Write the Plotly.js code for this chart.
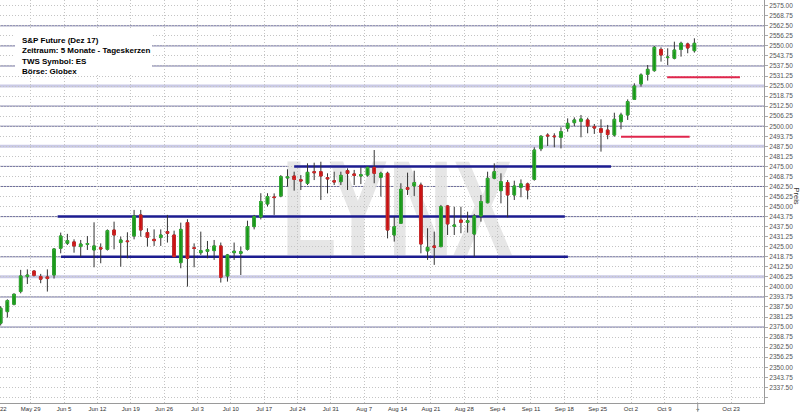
<!DOCTYPE html>
<html><head><meta charset="utf-8">
<script src="https://cdn.plot.ly/plotly-3.0.1.min.js"></script>
<style>html,body{margin:0;padding:0;background:#fff;} #chart{width:800px;height:414px;}</style>
</head><body><div id="chart"></div>
<script>
// Trading days (daily candles)
const dates = [
'2017-05-22','2017-05-23','2017-05-24','2017-05-25','2017-05-26',
'2017-05-29','2017-05-30','2017-05-31','2017-06-01','2017-06-02',
'2017-06-05','2017-06-06','2017-06-07','2017-06-08','2017-06-09',
'2017-06-12','2017-06-13','2017-06-14','2017-06-15','2017-06-16',
'2017-06-19','2017-06-20','2017-06-21','2017-06-22','2017-06-23',
'2017-06-26','2017-06-27','2017-06-28','2017-06-29','2017-06-30',
'2017-07-03','2017-07-04','2017-07-05','2017-07-06','2017-07-07',
'2017-07-10','2017-07-11','2017-07-12','2017-07-13','2017-07-14',
'2017-07-17','2017-07-18','2017-07-19','2017-07-20','2017-07-21',
'2017-07-24','2017-07-25','2017-07-26','2017-07-27','2017-07-28',
'2017-07-31','2017-08-01','2017-08-02','2017-08-03','2017-08-04',
'2017-08-07','2017-08-08','2017-08-09','2017-08-10','2017-08-11',
'2017-08-14','2017-08-15','2017-08-16','2017-08-17','2017-08-18',
'2017-08-21','2017-08-22','2017-08-23','2017-08-24','2017-08-25',
'2017-08-28','2017-08-29','2017-08-30','2017-08-31','2017-09-01',
'2017-09-04','2017-09-05','2017-09-06','2017-09-07','2017-09-08',
'2017-09-11','2017-09-12','2017-09-13','2017-09-14','2017-09-15',
'2017-09-18','2017-09-19','2017-09-20','2017-09-21','2017-09-22',
'2017-09-25','2017-09-26','2017-09-27','2017-09-28','2017-09-29',
'2017-10-02','2017-10-03','2017-10-04','2017-10-05','2017-10-06',
'2017-10-09','2017-10-10','2017-10-11','2017-10-12','2017-10-13'];

const open = [
2377.4,2384.6,2389.2,2397.1,2406.4, 2409.9,2406.4,2406.2,2407.4,2424.0,
2427.2,2428.0,2425.1,2426.5,2423.0, 2424.4,2423.4,2435.4,2427.6,2428.6,
2431.7,2444.8,2433.8,2429.6,2430.7, 2434.4,2432.3,2415.1,2440.0,2424.3,
2421.3,2422.2,2422.6,2425.5,2406.8, 2421.3,2420.9,2423.4,2437.5,2443.5,
2451.6,2456.0,2456.6,2467.8,2469.0, 2466.7,2464.5,2471.7,2471.7,2468.0,
2466.1,2465.5,2472.3,2470.3,2469.0, 2469.6,2474.4,2468.2,2470.7,2432.3,
2439.6,2461.8,2462.8,2463.4,2422.4, 2425.5,2425.1,2450.4,2437.7,2441.6,
2440.2,2432.9,2444.1,2452.4,2467.6, 2459.9,2464.9,2457.2,2462.0,2464.1,
2466.9,2486.0,2494.5,2493.9,2493.1, 2498.7,2502.2,2503.1,2503.9,2499.7,
2498.5,2497.6,2494.5,2502.8,2507.0, 2516.7,2526.3,2532.3,2534.6,2547.8,
2542.7,2542.3,2547.8,2551.2,2547.0];
const high = [
2388.0,2392.3,2396.0,2410.6,2410.9, 2410.3,2408.1,2410.9,2424.0,2433.8,
2433.0,2429.6,2429.2,2431.7,2440.2, 2427.1,2435.8,2440.6,2431.3,2434.0,
2447.9,2447.9,2436.5,2435.8,2435.8, 2444.8,2435.0,2440.0,2442.1,2427.1,
2434.4,2428.6,2429.2,2427.6,2420.5, 2427.6,2425.1,2441.2,2444.8,2458.3,
2458.3,2458.2,2469.6,2473.2,2471.7, 2469.6,2476.9,2477.3,2477.9,2470.7,
2471.7,2471.7,2473.8,2472.8,2474.4, 2475.2,2485.2,2471.7,2471.7,2443.7,
2464.5,2471.1,2472.3,2464.9,2436.5, 2434.4,2451.0,2451.0,2449.9,2449.9,
2446.8,2445.4,2457.2,2471.7,2476.9, 2470.7,2466.5,2466.1,2466.9,2464.9,
2486.9,2494.5,2495.6,2495.6,2499.3, 2504.9,2505.5,2507.0,2505.3,2501.4,
2504.3,2500.8,2508.4,2508.4,2516.7, 2526.7,2532.9,2538.1,2549.9,2549.1,
2548.5,2552.6,2552.6,2552.0,2554.7];
const low = [
2376.0,2380.9,2388.5,2396.0,2401.8, 2406.5,2402.3,2397.1,2405.2,2420.9,
2426.1,2421.3,2418.8,2423.0,2412.2, 2414.7,2422.6,2423.4,2412.6,2417.8,
2429.6,2431.3,2425.1,2425.5,2425.5, 2427.6,2418.4,2411.6,2400.2,2412.2,
2419.9,2417.8,2416.8,2402.7,2403.3, 2416.8,2407.4,2422.6,2435.8,2442.0,
2450.0,2444.8,2455.8,2462.4,2459.9, 2460.3,2463.4,2466.5,2454.1,2458.2,
2463.4,2463.4,2460.3,2463.4,2464.0, 2468.6,2464.5,2456.2,2430.2,2428.2,
2439.2,2457.2,2456.6,2420.9,2416.8, 2413.7,2424.6,2432.3,2432.3,2433.4,
2433.8,2418.8,2440.6,2452.0,2467.0, 2452.0,2443.3,2454.1,2455.8,2454.5,
2466.1,2484.5,2487.7,2486.9,2486.2, 2496.6,2500.1,2493.1,2495.6,2495.2,
2484.2,2491.9,2493.5,2498.1,2503.9, 2516.3,2524.6,2528.4,2533.9,2540.2,
2538.1,2541.6,2543.3,2545.4,2545.8];
const close = [
2386.7,2391.5,2395.4,2406.8,2407.4, 2407.2,2404.8,2405.2,2423.6,2431.7,
2428.8,2425.5,2426.7,2427.0,2425.5, 2423.6,2435.0,2432.3,2429.2,2428.2,
2444.2,2435.4,2430.9,2428.8,2432.3, 2433.4,2418.8,2435.8,2417.8,2424.0,
2422.6,2423.2,2425.5,2406.0,2419.9, 2422.2,2421.9,2437.5,2443.7,2453.1,
2456.2,2455.6,2468.6,2468.4,2466.9, 2465.9,2471.3,2471.1,2469.0,2467.2,
2465.3,2469.4,2470.7,2469.4,2469.8, 2474.4,2470.7,2470.7,2435.4,2437.5,
2460.7,2460.7,2464.9,2426.7,2424.6, 2424.6,2449.9,2439.2,2438.5,2440.2,
2441.2,2444.1,2453.1,2467.6,2471.7, 2465.5,2457.2,2462.8,2464.1,2460.3,
2485.2,2493.7,2494.0,2493.5,2496.6, 2501.8,2503.9,2504.5,2500.1,2498.9,
2496.2,2494.8,2504.3,2507.0,2515.3, 2525.0,2531.9,2535.4,2549.1,2544.3,
2543.0,2547.4,2551.6,2548.7,2551.6];

// Axis ticks
const tickDates = ['2017-05-29','2017-06-05','2017-06-12','2017-06-19','2017-06-26','2017-07-03',
'2017-07-10','2017-07-17','2017-07-24','2017-07-31','2017-08-07','2017-08-14','2017-08-21',
'2017-08-28','2017-09-04','2017-09-11','2017-09-18','2017-09-25','2017-10-02','2017-10-09',
'2017-10-16','2017-10-23'];
const tickLabels = ['May 29','Jun 5','Jun 12','Jun 19','Jun 26','Jul 3','Jul 10','Jul 17','Jul 24',
'Jul 31','Aug 7','Aug 14','Aug 21','Aug 28','Sep 4','Sep 11','Sep 18','Sep 25','Oct 2','Oct 9',
'+','Oct 23'];

// Horizontal levels drawn on the chart
const solidLevels = [2562.5,2550,2537.5,2512.5,2500,2475,2462.5,2443.75,2418.75,2393.75,2375];
const bandLevels = [2525,2487.5,2406.25];
const channelLevels = [2475,2443.75,2418.75];
const channelStart = ['2017-07-21 12:00','2017-06-02 01:00','2017-06-02 13:00'];
const channelEnd = ['2017-09-27 00:00','2017-09-18 02:00','2017-09-18 13:00'];
const targetLevels = [2530.5,2493.5];
const targetStart = ['2017-10-09 10:00','2017-09-28 12:00'];
const targetEnd = ['2017-10-24 08:00','2017-10-12 19:00'];

const infoLines = ['S&amp;P Future (Dez 17)','Zeitraum: 5 Monate - Tageskerzen','TWS Symbol: ES','Börse: Globex'];

const xs = dates.map(d => d + ' 12:00');
const bodyHigh = open.map((o,i) => Math.max(o, close[i]));
const bodyLow = open.map((o,i) => Math.min(o, close[i]));

const data = [
  {type:'candlestick', x:xs, open:open, high:high, low:low, close:close,
   increasing:{line:{color:'#333333',width:1}, fillcolor:'#169616'},
   decreasing:{line:{color:'#333333',width:1}, fillcolor:'#c81010'},
   whiskerwidth:0, hoverinfo:'skip', showlegend:false},
  {type:'candlestick', x:xs, open:open, high:bodyHigh, low:bodyLow, close:close,
   increasing:{line:{color:'#34b034',width:1}, fillcolor:'#169616'},
   decreasing:{line:{color:'#d42a2a',width:1}, fillcolor:'#c81010'},
   whiskerwidth:0, hoverinfo:'skip', showlegend:false}
];

const shapes = [];
solidLevels.forEach(v => shapes.push({type:'line', layer:'between', xref:'paper', x0:0, x1:1, yref:'y', y0:v, y1:v, line:{color:'#6c6c9c', width:1}}));
bandLevels.forEach(v => shapes.push({type:'line', layer:'between', xref:'paper', x0:0, x1:1, yref:'y', y0:v, y1:v, line:{color:'#cacae6', width:3}}));
channelLevels.forEach((v,i) => shapes.push({type:'line', layer:'between', xref:'x', x0:channelStart[i], x1:channelEnd[i], yref:'y', y0:v, y1:v, line:{color:'#1c1c90', width:2.5}}));
targetLevels.forEach((v,i) => shapes.push({type:'line', layer:'above', xref:'x', x0:targetStart[i], x1:targetEnd[i], yref:'y', y0:v, y1:v, line:{color:'#e0264c', width:2}}));
// info box background
shapes.push({type:'rect', layer:'above', xref:'paper', yref:'paper', x0:15/764, x1:152/764, y0:1-75/403, y1:1-30/403, fillcolor:'#ffffff', line:{width:0}});
// current-date tick mark
shapes.push({type:'line', layer:'above', xref:'x', x0:'2017-10-16', x1:'2017-10-16', yref:'paper', y0:0, y1:-0.022, line:{color:'#999999', width:1}});

const annotations = [
  {text:'LYNX', xref:'paper', yref:'paper', x:0.519, y:0.485, showarrow:false,
   font:{family:'Liberation Sans, Arial, sans-serif', size:136, color:'#e6e6e6', weight:'bold'}},
  {text:infoLines.join('<br>'), xref:'paper', yref:'paper', x:21/764, y:1-35/403, xanchor:'left', yanchor:'top',
   align:'left', showarrow:false, borderpad:0,
   font:{family:'Liberation Sans, Arial, sans-serif', size:8, color:'#000000', weight:'bold'}},
  {text:'Preis', xref:'paper', yref:'paper', x:795.5/764, y:1-196/403, textangle:90, showarrow:false,
   xanchor:'center', yanchor:'middle',
   font:{family:'Liberation Sans, Arial, sans-serif', size:7.5, color:'#333333'}},
  {text:'May 22', xref:'paper', yref:'paper', x:-2.65/764, y:0, xanchor:'center', yanchor:'top', yshift:-1, showarrow:false,
   font:{family:'Liberation Sans, Arial, sans-serif', size:6, color:'#333333'}}
];

const layout = {
  width:800, height:414, margin:{l:0, r:36, t:0, b:11},
  paper_bgcolor:'#ffffff', plot_bgcolor:'#ffffff', showlegend:false,
  boxgap:0.45, boxmode:'overlay',
  font:{family:'Liberation Sans, Arial, sans-serif'},
  xaxis:{type:'date', range:['2017-05-22 09:34','2017-10-27 22:30'],
    rangebreaks:[{bounds:['sat','mon']}], rangeslider:{visible:false},
    tickmode:'array', tickvals:tickDates, ticktext:tickLabels,
    showgrid:true, gridcolor:'#c4c4c4', griddash:'1px,2px', gridwidth:1,
    showline:true, linecolor:'#9a9a9a', linewidth:1, ticks:'', zeroline:false,
    tickfont:{size:6, color:'#333333'}, fixedrange:true},
  yaxis:{side:'right', range:[2327.75,2578.55], tickmode:'linear', tick0:2337.5, dtick:6.25,
    tickformat:'.2f', labelalias:{'2331.25':' '},
    showgrid:true, gridcolor:'#c4c4c4', griddash:'1px,2px', gridwidth:1,
    showline:true, linecolor:'#9a9a9a', linewidth:1, ticks:'outside', ticklen:3, tickcolor:'#aaaaaa',
    zeroline:false, tickfont:{size:6.5, color:'#555555'}, fixedrange:true},
  shapes:shapes, annotations:annotations
};

Plotly.newPlot('chart', data, layout, {staticPlot:true, displayModeBar:false}).then(function(gd){
  try {
    var ann = gd.querySelector('.annotation[data-index="0"]');
    var sub = gd.querySelector('.cartesianlayer .subplot.xy');
    var grid = sub && sub.querySelector('.gridlayer');
    if (ann && grid) {
      grid.parentNode.insertBefore(ann, grid);
      var bb = ann.getBBox();
      var cx = bb.x + bb.width / 2, s = 0.66;
      ann.setAttribute('transform', 'translate(' + (cx * (1 - s)) + ',0) scale(' + s + ',1)');
    }
  } catch (e) {}
});
</script>
</body></html>
